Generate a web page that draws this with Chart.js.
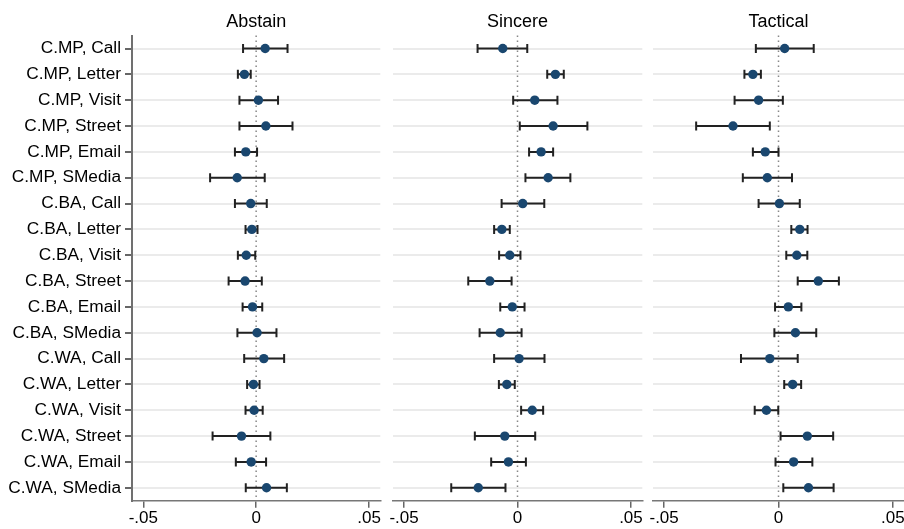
<!DOCTYPE html>
<html>
<head>
<meta charset="utf-8">
<script src="https://cdn.jsdelivr.net/npm/chart.js@4"></script>
<style>
  html, body { margin: 0; background: #fff; overflow: hidden; }
  canvas { position: absolute; top: 0; }
</style>
</head>
<body>
<!-- the x axis keeps ~5.7px for the edge tick labels, so canvases are a bit wider than the plot areas -->
<canvas id="abstain" width="385" height="529" style="left:0"></canvas>
<canvas id="sincere" width="259" height="529" style="left:388px"></canvas>
<canvas id="tactical" width="261" height="529" style="left:648px"></canvas>
<script>
var labels = ['C.MP, Call', 'C.MP, Letter', 'C.MP, Visit', 'C.MP, Street', 'C.MP, Email', 'C.MP, SMedia',
              'C.BA, Call', 'C.BA, Letter', 'C.BA, Visit', 'C.BA, Street', 'C.BA, Email', 'C.BA, SMedia',
              'C.WA, Call', 'C.WA, Letter', 'C.WA, Visit', 'C.WA, Street', 'C.WA, Email', 'C.WA, SMedia'];
var xTicks = [-0.05, 0, 0.05];

var abstainEst = [0.0040, -0.0052, 0.0010, 0.0043, -0.0046, -0.0084, -0.0024, -0.0019, -0.0044, -0.0049, -0.0016, 0.0004, 0.0034, -0.0012, -0.0009, -0.0065, -0.0022, 0.0046];
var abstainLo  = [-0.0058, -0.0081, -0.0074, -0.0074, -0.0094, -0.0204, -0.0094, -0.0047, -0.0081, -0.0122, -0.0060, -0.0083, -0.0053, -0.0040, -0.0047, -0.0193, -0.0090, -0.0046];
var abstainHi  = [0.0139, -0.0024, 0.0097, 0.0161, 0.0004, 0.0038, 0.0047, 0.0006, -0.0004, 0.0025, 0.0027, 0.0090, 0.0124, 0.0015, 0.0029, 0.0063, 0.0044, 0.0136];

var sincereEst = [-0.0065, 0.0167, 0.0076, 0.0157, 0.0104, 0.0135, 0.0023, -0.0069, -0.0034, -0.0122, -0.0023, -0.0076, 0.0007, -0.0047, 0.0065, -0.0056, -0.0040, -0.0173];
var sincereLo  = [-0.0176, 0.0131, -0.0019, 0.0010, 0.0051, 0.0035, -0.0070, -0.0103, -0.0081, -0.0217, -0.0076, -0.0167, -0.0103, -0.0082, 0.0016, -0.0188, -0.0116, -0.0292];
var sincereHi  = [0.0043, 0.0204, 0.0176, 0.0308, 0.0157, 0.0233, 0.0118, -0.0034, 0.0013, -0.0026, 0.0031, 0.0018, 0.0119, -0.0012, 0.0113, 0.0078, 0.0037, -0.0053];

var tacticalEst = [0.0027, -0.0112, -0.0087, -0.0199, -0.0058, -0.0049, 0.0004, 0.0093, 0.0080, 0.0174, 0.0043, 0.0074, -0.0038, 0.0062, -0.0053, 0.0126, 0.0066, 0.0131];
var tacticalLo  = [-0.0099, -0.0149, -0.0192, -0.0360, -0.0112, -0.0156, -0.0087, 0.0056, 0.0034, 0.0084, -0.0015, -0.0018, -0.0164, 0.0025, -0.0104, 0.0009, -0.0013, 0.0021];
var tacticalHi  = [0.0154, -0.0077, 0.0019, -0.0038, 0.0000, 0.0059, 0.0093, 0.0127, 0.0126, 0.0264, 0.0100, 0.0165, 0.0084, 0.0099, -0.0001, 0.0239, 0.0148, 0.0241];

var FONT = 'Liberation Sans, Arial, sans-serif';

// dotted zero line + confidence intervals under the points, panel title over the plot area
var errorBars = {
    id: 'errorBars',
    beforeDatasetsDraw: function (chart, args, opts) {
        var ctx = chart.ctx, area = chart.chartArea;
        var x = chart.scales.x, y = chart.scales.y;
        var x0 = x.getPixelForValue(0);
        ctx.save();
        ctx.strokeStyle = '#888';
        ctx.lineWidth = 1.5;
        ctx.setLineDash([1.5, 3.5]);
        ctx.beginPath();
        ctx.moveTo(x0, area.top);
        ctx.lineTo(x0, area.bottom);
        ctx.stroke();
        ctx.setLineDash([]);
        ctx.strokeStyle = '#222';
        ctx.lineWidth = 2;
        for (var i = 0; i < opts.lo.length; i++) {
            var yy = y.getPixelForValue(i);
            var a = x.getPixelForValue(opts.lo[i]);
            var b = x.getPixelForValue(opts.hi[i]);
            ctx.beginPath();
            ctx.moveTo(a, yy); ctx.lineTo(b, yy);
            ctx.moveTo(a, yy - 4.5); ctx.lineTo(a, yy + 4.5);
            ctx.moveTo(b, yy - 4.5); ctx.lineTo(b, yy + 4.5);
            ctx.stroke();
        }
        ctx.restore();
    },
    afterDraw: function (chart, args, opts) {
        var ctx = chart.ctx, area = chart.chartArea;
        ctx.save();
        ctx.fillStyle = '#000';
        ctx.font = '18px ' + FONT;
        ctx.textAlign = 'center';
        ctx.textBaseline = 'alphabetic';
        ctx.fillText(opts.title, (area.left + area.right) / 2, 27);
        ctx.restore();
    }
};

function makePanel(id, title, est, lo, hi, showLabels) {
    new Chart(document.getElementById(id), {
        type: 'scatter',
        data: {
            labels: labels,
            datasets: [{
                data: est.map(function (v, i) { return { x: v, y: labels[i] }; }),
                backgroundColor: '#1a476f',
                borderWidth: 0,
                pointRadius: 4.7
            }]
        },
        plugins: [errorBars],
        options: {
            responsive: false,
            animation: false,
            events: [],
            layout: { padding: { top: 35.6, left: 0, right: 0, bottom: 0 } },
            plugins: {
                legend: { display: false },
                tooltip: { enabled: false },
                errorBars: { lo: lo, hi: hi, title: title }
            },
            scales: {
                x: {
                    type: 'linear',
                    min: -0.055,
                    max: 0.055,
                    afterBuildTicks: function (s) {
                        s.ticks = xTicks.map(function (v) { return { value: v }; });
                    },
                    afterFit: function (s) { s.height = 28.3; },
                    ticks: {
                        color: '#000',
                        padding: 0,
                        maxRotation: 0,
                        font: { family: FONT, size: 17 },
                        callback: function (v) { return String(v).replace('0.', '.'); }
                    },
                    grid: { drawOnChartArea: false, drawTicks: true, tickLength: 7, tickColor: '#666', lineWidth: 1.5 },
                    border: { display: true, color: '#777', width: 1.5 }
                },
                y: {
                    type: 'category',
                    offset: true,
                    afterFit: function (s) { s.width = showLabels ? 132 : 0; },
                    ticks: {
                        display: showLabels,
                        color: '#000',
                        padding: 4,
                        autoSkip: false,
                        font: { family: FONT, size: 17.3 }
                    },
                    grid: {
                        offset: false,
                        color: '#ebebeb',
                        lineWidth: 2,
                        drawTicks: showLabels,
                        tickLength: 7,
                        tickColor: '#666'
                    },
                    border: { display: showLabels, color: '#707070', width: 2 }
                }
            }
        }
    });
}

makePanel('abstain', 'Abstain', abstainEst, abstainLo, abstainHi, true);
makePanel('sincere', 'Sincere', sincereEst, sincereLo, sincereHi, false);
makePanel('tactical', 'Tactical', tacticalEst, tacticalLo, tacticalHi, false);
</script>
</body>
</html>
